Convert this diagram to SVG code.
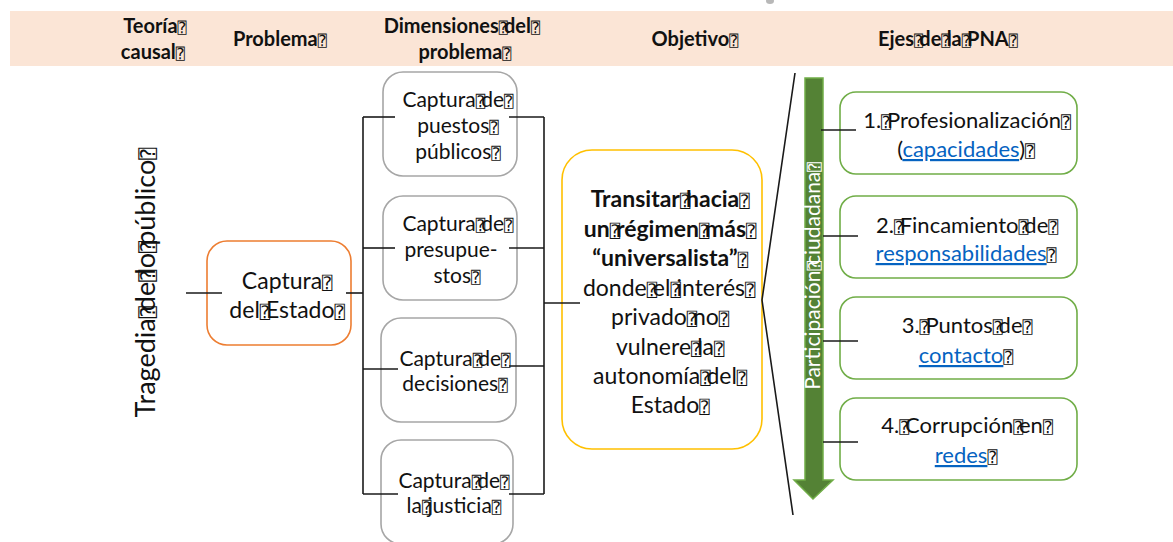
<svg xmlns="http://www.w3.org/2000/svg" width="1173" height="542" viewBox="0 0 1173 542">
<style>
text{font-family:Lato,"Liberation Sans",sans-serif;fill:#111;}
.h{font-weight:bold;font-size:20px;text-anchor:middle;}
.t{text-anchor:middle;}
.b{font-weight:bold;}
.q{font-family:"DejaVu Sans Mono",monospace;font-size:75%;font-weight:normal;letter-spacing:-0.25em;}
.ln{stroke:#1a1a1a;stroke-width:1.6;fill:none;}
.gray{fill:#fff;stroke:#a6a6a6;stroke-width:1.6;}
.grn{fill:#fff;stroke:#70ad47;stroke-width:1.6;}
.lk{fill:#0563c1;text-decoration:underline;}
</style>
<rect x="0" y="0" width="1173" height="542" fill="#fff"/>
<g id="header">
<rect x="10" y="11" width="1163" height="55" fill="#fbe5d6"/>
<ellipse cx="770" cy="1" rx="4" ry="3" fill="#9a9a9a" opacity="0.7"/>
<text class="h" x="153" y="33">Teoría<tspan class="q">⍰</tspan></text>
<text class="h" x="151" y="59">causal<tspan class="q">⍰</tspan></text>
<text class="h" x="278" y="46">Problema<tspan class="q">⍰</tspan></text>
<text class="h" x="460" y="33">Dimensiones<tspan class="q">⍰</tspan>del<tspan class="q">⍰</tspan></text>
<text class="h" x="463" y="59">problema<tspan class="q">⍰</tspan></text>
<text class="h" x="693" y="46">Objetivo<tspan class="q">⍰</tspan></text>
<text class="h" x="946" y="46">Ejes<tspan class="q">⍰</tspan>de<tspan class="q">⍰</tspan>la<tspan class="q">⍰</tspan>PNA<tspan class="q">⍰</tspan></text>
</g>
<g id="teoria">
<text class="t" font-size="27" transform="translate(155,285) rotate(-90)">Tragedia<tspan class="q">⍰</tspan>de<tspan class="q">⍰</tspan>lo<tspan class="q">⍰</tspan>público<tspan class="q">⍰</tspan></text>
</g>
<g id="captura-estado">
<rect x="207" y="241" width="144" height="104" rx="20" fill="#fff" stroke="#ed7d31" stroke-width="1.6"/>
<text class="t" font-size="23" x="285" y="289">Captura<tspan class="q">⍰</tspan></text>
<text class="t" font-size="23" x="285" y="318">del<tspan class="q">⍰</tspan>Estado<tspan class="q">⍰</tspan></text>
</g>
<g id="dim1">
<rect class="gray" x="383" y="72" width="134" height="104" rx="20"/>
<text class="t" font-size="21" x="456" y="107">Captura<tspan class="q">⍰</tspan>de<tspan class="q">⍰</tspan></text>
<text class="t" font-size="21" x="456" y="133">puestos<tspan class="q">⍰</tspan></text>
<text class="t" font-size="21" x="456" y="159">públicos<tspan class="q">⍰</tspan></text>
</g>
<g id="dim2">
<rect class="gray" x="383" y="196" width="134" height="104" rx="20"/>
<text class="t" font-size="21" x="456" y="231">Captura<tspan class="q">⍰</tspan>de<tspan class="q">⍰</tspan></text>
<text class="t" font-size="21" x="451" y="257">presupue-</text>
<text class="t" font-size="21" x="455" y="283">stos<tspan class="q">⍰</tspan></text>
</g>
<g id="dim3">
<rect class="gray" x="381" y="318" width="135" height="104" rx="20"/>
<text class="t" font-size="21" x="453" y="366">Captura<tspan class="q">⍰</tspan>de<tspan class="q">⍰</tspan></text>
<text class="t" font-size="21" x="453" y="391">decisiones<tspan class="q">⍰</tspan></text>
</g>
<g id="dim4">
<rect class="gray" x="381" y="440" width="132" height="104" rx="20"/>
<text class="t" font-size="21" x="452" y="488">Captura<tspan class="q">⍰</tspan>de<tspan class="q">⍰</tspan></text>
<text class="t" font-size="21" x="452" y="513">la<tspan class="q">⍰</tspan>justicia<tspan class="q">⍰</tspan></text>
</g>
<g id="objetivo">
<rect x="562" y="150" width="200" height="299" rx="30" fill="#fff" stroke="#ffc000" stroke-width="1.6"/>
<text class="t b" font-size="23" x="668" y="207">Transitar<tspan class="q">⍰</tspan>hacia<tspan class="q">⍰</tspan></text>
<text class="t b" font-size="23" x="668" y="237">un<tspan class="q">⍰</tspan>régimen<tspan class="q">⍰</tspan>más<tspan class="q">⍰</tspan></text>
<text class="t b" font-size="23" x="668" y="266">“universalista”<tspan class="q">⍰</tspan></text>
<text class="t" font-size="23" x="667" y="296">donde<tspan class="q">⍰</tspan>el<tspan class="q">⍰</tspan>interés<tspan class="q">⍰</tspan></text>
<text class="t" font-size="23" x="668" y="325">privado<tspan class="q">⍰</tspan>no<tspan class="q">⍰</tspan></text>
<text class="t" font-size="23" x="668" y="355">vulnere<tspan class="q">⍰</tspan>la<tspan class="q">⍰</tspan></text>
<text class="t" font-size="23" x="668" y="384">autonomía<tspan class="q">⍰</tspan>del<tspan class="q">⍰</tspan></text>
<text class="t" font-size="23" x="668" y="413">Estado<tspan class="q">⍰</tspan></text>
</g>
<g id="participacion">
<path d="M805,78 H823 V480 H833 L813,499 L794,480 H805 Z" fill="#548235" stroke="#70ad47" stroke-width="1.5"/>
<text class="t" font-size="21" style="fill:#fff" transform="translate(820,278) rotate(-90)">Participación<tspan class="q">⍰</tspan>ciudadana<tspan class="q">⍰</tspan></text>
</g>
<g id="eje1">
<rect class="grn" x="840" y="92" width="237" height="82" rx="16"/>
<text class="t" font-size="22" x="965" y="128">1.<tspan class="q">⍰</tspan>Profesionalización<tspan class="q">⍰</tspan></text>
<text class="t" font-size="22" x="964" y="157">(<tspan class="lk">capacidades</tspan>)<tspan class="q">⍰</tspan></text>
</g>
<g id="eje2">
<rect class="grn" x="840" y="196" width="237" height="82" rx="16"/>
<text class="t" font-size="22" x="965" y="233">2.<tspan class="q">⍰</tspan>Fincamiento<tspan class="q">⍰</tspan>de<tspan class="q">⍰</tspan></text>
<text class="t" font-size="22" x="964" y="261"><tspan class="lk">responsabilidades</tspan><tspan class="q">⍰</tspan></text>
</g>
<g id="eje3">
<rect class="grn" x="840" y="297" width="237" height="82" rx="16"/>
<text class="t" font-size="22" x="965" y="333">3.<tspan class="q">⍰</tspan>Puntos<tspan class="q">⍰</tspan>de<tspan class="q">⍰</tspan></text>
<text class="t" font-size="22" x="964" y="363"><tspan class="lk">contacto</tspan><tspan class="q">⍰</tspan></text>
</g>
<g id="eje4">
<rect class="grn" x="840" y="398" width="237" height="82" rx="16"/>
<text class="t" font-size="22" x="965" y="433">4.<tspan class="q">⍰</tspan>Corrupción<tspan class="q">⍰</tspan>en<tspan class="q">⍰</tspan></text>
<text class="t" font-size="22" x="964" y="463"><tspan class="lk">redes</tspan><tspan class="q">⍰</tspan></text>
</g>
<g id="connectors">
<line class="ln" x1="186" y1="293" x2="222" y2="293"/>
<line class="ln" x1="346" y1="293" x2="363" y2="293"/>
<line class="ln" x1="363" y1="117" x2="363" y2="494"/>
<line class="ln" x1="363" y1="117" x2="395" y2="117"/>
<line class="ln" x1="363" y1="248" x2="395" y2="248"/>
<line class="ln" x1="363" y1="369" x2="398" y2="369"/>
<line class="ln" x1="363" y1="494" x2="398" y2="494"/>
<line class="ln" x1="544" y1="117" x2="544" y2="494"/>
<line class="ln" x1="509" y1="117" x2="544" y2="117"/>
<line class="ln" x1="509" y1="248" x2="544" y2="248"/>
<line class="ln" x1="509" y1="366" x2="544" y2="366"/>
<line class="ln" x1="509" y1="494" x2="544" y2="494"/>
<line class="ln" x1="544" y1="303" x2="580" y2="303"/>
<polyline class="ln" points="795,73 762,300 793,515"/>
<line class="ln" x1="821" y1="130" x2="856" y2="130"/>
<line class="ln" x1="823" y1="236" x2="858" y2="236"/>
<line class="ln" x1="823" y1="341" x2="858" y2="341"/>
<line class="ln" x1="823" y1="442" x2="858" y2="442"/>
</g>
</svg>
